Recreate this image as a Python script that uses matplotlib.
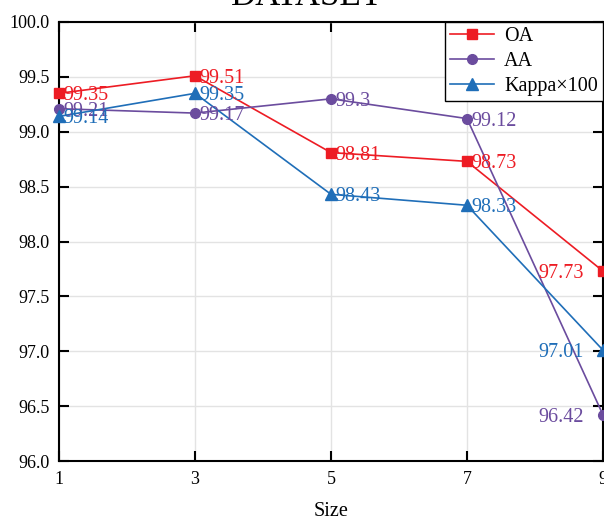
import matplotlib
matplotlib.use("Agg")
import matplotlib.pyplot as plt

plt.rcParams['font.family'] = ['Liberation Serif', 'DejaVu Serif']

sizes = [1, 3, 5, 7, 9]
oa = [99.35, 99.51, 98.81, 98.73, 97.73]
aa = [99.21, 99.17, 99.30, 99.12, 96.42]
kappa = [99.14, 99.35, 98.43, 98.33, 97.01]
oa_lbl = ["99.35", "99.51", "98.81", "98.73", "97.73"]
aa_lbl = ["99.21", "99.17", "99.3", "99.12", "96.42"]
kappa_lbl = ["99.14", "99.35", "98.43", "98.33", "97.01"]
yticks = [96.0, 96.5, 97.0, 97.5, 98.0, 98.5, 99.0, 99.5, 100.0]

c_oa = '#ED1C24'
c_aa = '#6B4C9E'
c_k = '#1F6EB8'

fig = plt.figure(figsize=(6.04, 5.2), dpi=100)
ax = fig.add_axes([59/604, (520-461)/520, 544/604, 439/520])

ax.plot(sizes, oa, color=c_oa, marker='s', markersize=7, lw=1.2, label='OA', clip_on=False, zorder=3)
ax.plot(sizes, aa, color=c_aa, marker='o', markersize=7, lw=1.2, label='AA', clip_on=False, zorder=3)
ax.plot(sizes, kappa, color=c_k, marker='^', markersize=8, lw=1.2, label='Kappa×100', clip_on=False, zorder=3)

fs = 14.5
for ys, labs, col in [(oa, oa_lbl, c_oa), (aa, aa_lbl, c_aa), (kappa, kappa_lbl, c_k)]:
    for i, (x, y, t) in enumerate(zip(sizes, ys, labs)):
        if i == len(sizes) - 1:
            ax.annotate(t, (x, y), xytext=(-14, 0), textcoords='offset points',
                        ha='right', va='center_baseline', color=col, fontsize=fs)
        else:
            ax.annotate(t, (x, y), xytext=(3.5, 0), textcoords='offset points',
                        ha='left', va='center_baseline', color=col, fontsize=fs)

ax.set_xlim(1, 9)
ax.set_ylim(96, 100)
ax.set_xticks(sizes)
ax.set_yticks(yticks)
ax.set_yticklabels([f"{v:.1f}" for v in yticks])
ax.grid(True, color='#e3e3e3', lw=1)
ax.set_axisbelow(True)
ax.tick_params(direction='in', length=7, width=1.5, top=True, right=True,
               labelsize=13, colors='black', pad=7)
for s in ax.spines.values():
    s.set_linewidth(1.5)
ax.set_xlabel('Size', fontsize=14.5, labelpad=10)

leg = ax.legend(loc='upper right', fontsize=14.5, fancybox=False, edgecolor='black',
                framealpha=1, borderaxespad=0, borderpad=0.25, handlelength=2.2,
                handletextpad=0.5, labelspacing=0.3)
leg.get_frame().set_linewidth(1.0)

fig.text(307/604, 1 - 5/520, 'DATASET', fontsize=25, ha='center', va='baseline')

fig.savefig('out.png', dpi=100)
